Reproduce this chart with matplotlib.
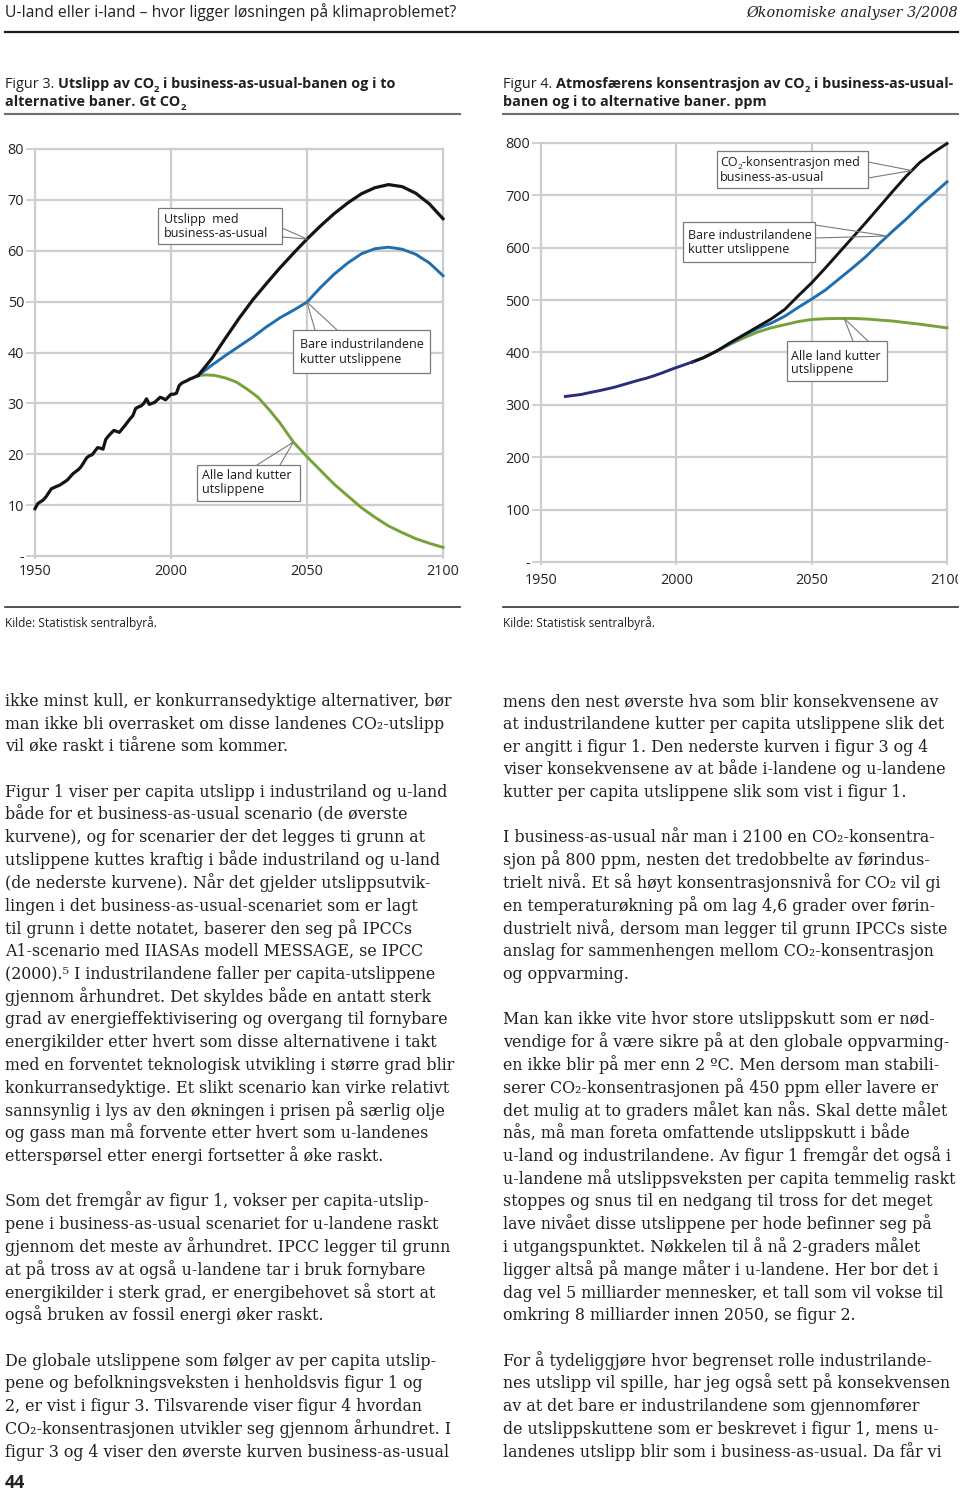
import numpy as np
import matplotlib
matplotlib.use('Agg')
import matplotlib.pyplot as plt
from matplotlib.transforms import Affine2D, IdentityTransform, Bbox
from matplotlib.lines import Line2D
from matplotlib.patches import Rectangle

##### DATA #####
# Figur 3: utslipp av CO2, Gt CO2
hist_years = [1950, 1951, 1953, 1954, 1956, 1958, 1959, 1961, 1962, 1964, 1966,
              1967, 1969, 1970, 1971, 1973, 1974, 1975, 1976, 1977, 1979, 1980,
              1981, 1983, 1985, 1986, 1987, 1988, 1989, 1990, 1991, 1992, 1994,
              1996, 1997, 1998, 2000, 2001, 2002, 2003, 2004, 2006, 2007, 2008, 2010]
hist_emis = [9.3, 10.3, 11.0, 11.6, 13.2, 13.7, 13.9, 14.6, 15.0, 16.2, 17.0,
             17.6, 19.3, 19.7, 19.9, 21.3, 21.2, 21.0, 22.9, 23.6, 24.7, 24.5,
             24.3, 25.6, 27.0, 27.6, 29.0, 29.3, 29.5, 30.0, 30.9, 29.8, 30.2,
             31.2, 31.0, 30.7, 31.8, 31.8, 32.0, 33.5, 34.0, 34.5, 34.8, 35.0, 35.5]

scen_years = [2010, 2015, 2020, 2025, 2030, 2035, 2040, 2045, 2050, 2055,
              2060, 2065, 2070, 2075, 2080, 2085, 2090, 2095, 2100]
bau_emis = [35.5, 38.8, 42.8, 46.7, 50.3, 53.5, 56.6, 59.5, 62.3, 64.9,
            67.3, 69.4, 71.2, 72.4, 73.0, 72.6, 71.3, 69.2, 66.3]
ind_emis = [35.5, 37.5, 39.4, 41.2, 43.0, 45.0, 46.8, 48.3, 49.9, 52.8,
            55.4, 57.6, 59.4, 60.4, 60.7, 60.3, 59.3, 57.6, 55.1]
all_years = [2010, 2013, 2016, 2020, 2024, 2028, 2032, 2036, 2040, 2045, 2050,
             2055, 2060, 2065, 2070, 2075, 2080, 2085, 2090, 2095, 2100]
all_emis = [35.5, 35.6, 35.5, 35.0, 34.2, 32.8, 31.2, 28.8, 26.2, 22.4, 19.5,
            16.8, 14.1, 11.8, 9.5, 7.6, 5.9, 4.6, 3.4, 2.5, 1.7]

# Figur 4: konsentrasjon av CO2, ppm
hist_c_years = [1959, 1962, 1965, 1968, 1971, 1974, 1977, 1980, 1983, 1986,
                1989, 1992, 1995, 1998, 2001, 2004, 2006]
hist_conc = [316, 318, 320, 323.5, 326.5, 330, 333.5, 338, 342.5, 347,
             351, 356, 361.5, 367.5, 373, 378.5, 382]
conc_years = [2006, 2010, 2015, 2020, 2025, 2030, 2035, 2040, 2045, 2050,
              2055, 2060, 2065, 2070, 2075, 2080, 2085, 2090, 2095, 2100]
bau_conc = [382, 390, 403, 419, 434, 449, 464, 482, 508, 533,
            561, 590, 619, 648, 678, 708, 737, 763, 782, 799]
ind_conc = [382, 390, 403, 418, 433, 446, 456, 469, 486, 502,
            519, 540, 561, 583, 608, 632, 655, 680, 703, 726]
all_conc = [382, 390, 403, 416, 428, 439, 447, 453, 459, 463,
            464.5, 465, 465, 464, 462, 460, 457, 454, 450.5, 447]

x_ticks = [1950, 2000, 2050, 2100]
x_labels = ['1950', '2000', '2050', '2100']
y3_ticks = [0, 10, 20, 30, 40, 50, 60, 70, 80]
y3_labels = ['-', '10', '20', '30', '40', '50', '60', '70', '80']
y4_ticks = [0, 100, 200, 300, 400, 500, 600, 700, 800]
y4_labels = ['-', '100', '200', '300', '400', '500', '600', '700', '800']

left_lines = [
    "ikke minst kull, er konkurransedyktige alternativer, bør",
    "man ikke bli overrasket om disse landenes CO₂-utslipp",
    "vil øke raskt i tiårene som kommer.",
    "",
    "Figur 1 viser per capita utslipp i industriland og u-land",
    "både for et business-as-usual scenario (de øverste",
    "kurvene), og for scenarier der det legges ti grunn at",
    "utslippene kuttes kraftig i både industriland og u-land",
    "(de nederste kurvene). Når det gjelder utslippsutvik-",
    "lingen i det business-as-usual-scenariet som er lagt",
    "til grunn i dette notatet, baserer den seg på IPCCs",
    "A1-scenario med IIASAs modell MESSAGE, se IPCC",
    "(2000).⁵ I industrilandene faller per capita-utslippene",
    "gjennom århundret. Det skyldes både en antatt sterk",
    "grad av energieffektivisering og overgang til fornybare",
    "energikilder etter hvert som disse alternativene i takt",
    "med en forventet teknologisk utvikling i større grad blir",
    "konkurransedyktige. Et slikt scenario kan virke relativt",
    "sannsynlig i lys av den økningen i prisen på særlig olje",
    "og gass man må forvente etter hvert som u-landenes",
    "etterspørsel etter energi fortsetter å øke raskt.",
    "",
    "Som det fremgår av figur 1, vokser per capita-utslip-",
    "pene i business-as-usual scenariet for u-landene raskt",
    "gjennom det meste av århundret. IPCC legger til grunn",
    "at på tross av at også u-landene tar i bruk fornybare",
    "energikilder i sterk grad, er energibehovet så stort at",
    "også bruken av fossil energi øker raskt.",
    "",
    "De globale utslippene som følger av per capita utslip-",
    "pene og befolkningsveksten i henholdsvis figur 1 og",
    "2, er vist i figur 3. Tilsvarende viser figur 4 hvordan",
    "CO₂-konsentrasjonen utvikler seg gjennom århundret. I",
    "figur 3 og 4 viser den øverste kurven business-as-usual",
]
right_lines = [
    "mens den nest øverste hva som blir konsekvensene av",
    "at industrilandene kutter per capita utslippene slik det",
    "er angitt i figur 1. Den nederste kurven i figur 3 og 4",
    "viser konsekvensene av at både i-landene og u-landene",
    "kutter per capita utslippene slik som vist i figur 1.",
    "",
    "I business-as-usual når man i 2100 en CO₂-konsentra-",
    "sjon på 800 ppm, nesten det tredobbelte av førindus-",
    "trielt nivå. Et så høyt konsentrasjonsnivå for CO₂ vil gi",
    "en temperaturøkning på om lag 4,6 grader over førin-",
    "dustrielt nivå, dersom man legger til grunn IPCCs siste",
    "anslag for sammenhengen mellom CO₂-konsentrasjon",
    "og oppvarming.",
    "",
    "Man kan ikke vite hvor store utslippskutt som er nød-",
    "vendige for å være sikre på at den globale oppvarming-",
    "en ikke blir på mer enn 2 ºC. Men dersom man stabili-",
    "serer CO₂-konsentrasjonen på 450 ppm eller lavere er",
    "det mulig at to graders målet kan nås. Skal dette målet",
    "nås, må man foreta omfattende utslippskutt i både",
    "u-land og industrilandene. Av figur 1 fremgår det også i",
    "u-landene må utslippsveksten per capita temmelig raskt",
    "stoppes og snus til en nedgang til tross for det meget",
    "lave nivået disse utslippene per hode befinner seg på",
    "i utgangspunktet. Nøkkelen til å nå 2-graders målet",
    "ligger altså på mange måter i u-landene. Her bor det i",
    "dag vel 5 milliarder mennesker, et tall som vil vokse til",
    "omkring 8 milliarder innen 2050, se figur 2.",
    "",
    "For å tydeliggjøre hvor begrenset rolle industrilande-",
    "nes utslipp vil spille, har jeg også sett på konsekvensen",
    "av at det bare er industrilandene som gjennomfører",
    "de utslippskuttene som er beskrevet i figur 1, mens u-",
    "landenes utslipp blir som i business-as-usual. Da får vi",
]

##### STYLE #####
SANS = ['Open Sans', 'DejaVu Sans']
SERIF = ['DejaVu Serif', 'DejaVu Sans']
BLACK = '#141414'
BLUE = '#1f6fb0'
GREEN = '#77a23a'
NAVY = '#2b2c7c'
GRID = '#cdcdcd'
EDGE = '#7a7a7a'
INK = '#231f20'

W, H = 960, 1492
fig = plt.figure(figsize=(W / 100, H / 100), dpi=100)
fig.patch.set_facecolor('white')
r = fig.canvas.get_renderer()

# pixel coordinates with y going down from the top of the page
PX = Affine2D().scale(1, -1).translate(0, H)


def txt(x, y, s, **kw):
    kw.setdefault('va', 'baseline')
    return fig.text(x, y, s, transform=PX, **kw)


def width(s, **kw):
    t = txt(0, 0, s, **kw)
    w = t.get_window_extent(r).width
    t.remove()
    return w


def fit(s, target, size=10, **kw):
    return size * target / width(s, size=size, **kw)


def runs(x, y, parts, size, color=INK):
    # parts: (text, weight, subscript)
    arts = []
    for s, weight, sub in parts:
        if s == ' ':
            x += width('n n', size=size, weight=weight, family=SANS) - \
                 width('nn', size=size, weight=weight, family=SANS)
            continue
        fs = size * 0.66 if sub else size
        dy = size / 0.72 * 0.25 if sub else 0
        t = txt(x, y + dy, s, size=fs, weight=weight, family=SANS, color=color)
        arts.append(t)
        x += t.get_window_extent(r).width
    return arts, x


def hline(y, x0, x1, color, lw):
    fig.add_artist(Line2D([x0, x1], [y, y], transform=PX, color=color, lw=lw))


##### PAGE HEADER #####
hs = fit("U-land eller i-land – hvor ligger løsningen på klimaproblemet?", 449, family=SANS)
txt(5, 17, "U-land eller i-land – hvor ligger løsningen på klimaproblemet?",
    size=hs, family=SANS, color='#222222')
rs = fit("Økonomiske analyser 3/2008", 211, family=SERIF, style='italic')
txt(958, 17, "Økonomiske analyser 3/2008", size=rs, family=SERIF, style='italic',
    ha='right', color='#222222')
hline(32, 5, 958, '#1a1a1a', 1.6)

##### FIGURE TITLES #####
t4_line1 = [("Figur 4.", 'normal', False), (' ', 'normal', False),
            ("Atmosfærens konsentrasjon av CO", 'bold', False), ("2", 'bold', True),
            (' ', 'bold', False), ("i business-as-usual-", 'bold', False)]
arts, xe = runs(0, 0, t4_line1, 10)
for a in arts:
    a.remove()
ts = 10 * 449 / xe

runs(5, 88, [("Figur 3.", 'normal', False), (' ', 'normal', False),
             ("Utslipp av CO", 'bold', False), ("2", 'bold', True), (' ', 'bold', False),
             ("i business-as-usual-banen og i to", 'bold', False)], ts)
runs(5, 106, [("alternative baner. Gt CO", 'bold', False), ("2", 'bold', True)], ts)
runs(503, 88, t4_line1, ts)
runs(503, 106, [("banen og i to alternative baner. ppm", 'bold', False)], ts)
hline(114, 5, 460, '#6e6e6e', 1.5)
hline(114, 503, 958, '#6e6e6e', 1.5)

##### CHARTS #####
tick_size = fit('1950', 33, family=SANS)
box_size = fit('Bare industrilandene', 123, family=SANS)


def make_axes(xpx, ypx, ylim, yticks, ylabels, xpad, clip_x):
    x0, x1 = xpx
    yb, yt = ypx
    ax = fig.add_axes([x0 / W, 1 - yb / H, (x1 - x0) / W, (yb - yt) / H])
    ax.set_xlim(1950, 2100)
    ax.set_ylim(*ylim)
    ax.patch.set_visible(False)
    for sp in ax.spines.values():
        sp.set_visible(False)
    for v in yticks:
        ax.axhline(v, color=GRID, lw=1.6, clip_on=False, zorder=0.5)
    for v in x_ticks:
        ax.axvline(v, color=GRID, lw=1.6, clip_on=False, zorder=0.5)
    ax.set_xticks(x_ticks)
    ax.set_xticklabels(x_labels)
    ax.set_yticks(yticks)
    ax.set_yticklabels(ylabels)
    ax.tick_params(axis='y', length=6.3, width=1.3, color=GRID, pad=1.5,
                   labelsize=tick_size, labelcolor='#222222')
    ax.tick_params(axis='x', length=2.5, width=1.3, color=GRID, pad=xpad,
                   labelsize=tick_size, labelcolor='#222222')
    for lab in ax.get_xticklabels() + ax.get_yticklabels():
        lab.set_family(SANS)
    clip = Bbox.from_extents(0, 0, clip_x, H)
    for lab in ax.get_xticklabels():
        lab.set_clip_box(clip)
        lab.set_clip_on(True)
    return ax


ax3 = make_axes((35, 443), (556, 149), (0, 80), y3_ticks, y3_labels, 3.5, 459)
ax3.plot(all_years, all_emis, color=GREEN, lw=2.1, clip_on=False, zorder=2)
ax3.plot(scen_years, ind_emis, color=BLUE, lw=2.1, clip_on=False, zorder=3)
ax3.plot(scen_years, bau_emis, color=BLACK, lw=2.3, clip_on=False, zorder=4)
ax3.plot(hist_years, hist_emis, color=BLACK, lw=2.3, clip_on=False, zorder=4,
         solid_joinstyle='round')

ax4 = make_axes((541, 947), (562, 143), (0, 800), y4_ticks, y4_labels, 5.5, 958)
ax4.plot(conc_years, all_conc, color=GREEN, lw=2.1, clip_on=False, zorder=2)
ax4.plot(conc_years, ind_conc, color=BLUE, lw=2.1, clip_on=False, zorder=3)
ax4.plot(conc_years, bau_conc, color=BLACK, lw=2.1, clip_on=False, zorder=4)
ax4.plot(hist_c_years, hist_conc, color=NAVY, lw=2.1, clip_on=False, zorder=5)


def callout(ax, box, base, apex_year, years, vals, lines, tx, baselines):
    x0, y0, x1, y1 = box
    ax_, ay_ = ax.transData.transform((apex_year, np.interp(apex_year, years, vals)))
    (b1x, b1y), (b2x, b2y) = base
    fig.add_artist(Line2D([b1x, ax_, b2x], [H - b1y, ay_, H - b2y],
                          transform=IdentityTransform(), color=EDGE, lw=0.8, zorder=5))
    fig.add_artist(Rectangle((x0, H - y1), x1 - x0, y1 - y0, transform=IdentityTransform(),
                             facecolor='white', edgecolor=EDGE, lw=0.9, zorder=6))
    for parts, by in zip(lines, baselines):
        arts, _ = runs(tx, by, parts, box_size, color='#1a1a1a')
        for a in arts:
            a.set_zorder(7)


def plain(s):
    return [(s, 'normal', False)]


callout(ax3, (158, 208, 282, 244), ((282, 228), (282, 237)), 2050, scen_years, bau_emis,
        [plain("Utslipp  med"), plain("business-as-usual")], 164, (223, 237))
callout(ax3, (293, 330, 430, 373), ((315, 330), (337, 330)), 2050, scen_years, ind_emis,
        [plain("Bare industrilandene"), plain("kutter utslippene")], 300, (348, 363))
callout(ax3, (197, 465, 300, 501), ((257, 465), (280, 465)), 2045, all_years, all_emis,
        [plain("Alle land kutter"), plain("utslippene")], 202, (479, 493))

callout(ax4, (717, 151, 868, 188), ((868, 162), (868, 178)), 2087, conc_years, bau_conc,
        [[("CO", 'normal', False), ("2", 'normal', True), ("-konsentrasjon med", 'normal', False)],
         plain("business-as-usual")], 720, (166, 181))
callout(ax4, (683, 222, 815, 262), ((815, 225), (815, 238)), 2078, conc_years, ind_conc,
        [plain("Bare industrilandene"), plain("kutter utslippene")], 688, (239, 253))
callout(ax4, (787, 341, 887, 381), ((853, 341), (868, 341)), 2062, conc_years, all_conc,
        [plain("Alle land kutter"), plain("utslippene")], 791, (360, 373))

##### SOURCES #####
hline(607, 5, 460, '#333333', 1.2)
hline(607, 503, 958, '#333333', 1.2)
ks = fit("Kilde: Statistisk sentralbyrå.", 153, family=SANS)
txt(5, 627, "Kilde: Statistisk sentralbyrå.", size=ks, family=SANS, color='#222222')
txt(503, 627, "Kilde: Statistisk sentralbyrå.", size=ks, family=SANS, color='#222222')

##### BODY TEXT #####
bs = fit("(de nederste kurvene). Når det gjelder utslippsutvik-", 427, family=SERIF)
for i, line in enumerate(left_lines):
    if line:
        txt(5, 706 + i * 22.75, line, size=bs, family=SERIF, color=INK)
for i, line in enumerate(right_lines):
    if line:
        txt(503, 706 + i * 22.75, line, size=bs, family=SERIF, color=INK)

txt(5, 1488, "44", size=13, weight='bold', family=SANS, color='#222222')

fig.savefig('out.png', dpi=100, facecolor='white')
